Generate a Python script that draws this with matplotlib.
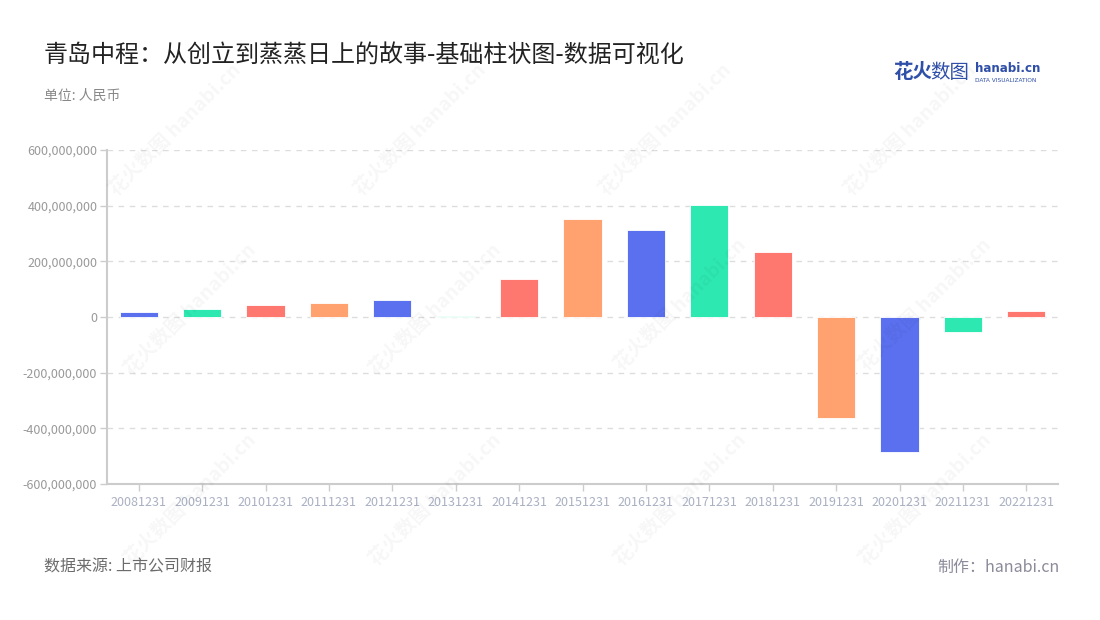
import matplotlib
matplotlib.use("Agg")
import matplotlib.pyplot as plt
from matplotlib.ticker import FuncFormatter

plt.rcParams['font.family'] = ['Noto Sans CJK SC', 'DejaVu Sans']

categories = ["20081231", "20091231", "20101231", "20111231", "20121231",
              "20131231", "20141231", "20151231", "20161231", "20171231",
              "20181231", "20191231", "20201231", "20211231", "20221231"]
values = [19e6, 29e6, 43e6, 50e6, 61e6,
          5e6, 135e6, 351e6, 312e6, 402e6,
          232e6, -364e6, -486e6, -54e6, 21e6]
palette = ["#5A70EE", "#2EE8B2", "#FF7870", "#FFA26F"]
yticks = [-600e6, -400e6, -200e6, 0, 200e6, 400e6, 600e6]

title = "青岛中程：从创立到蒸蒸日上的故事-基础柱状图-数据可视化"
unit = "单位: 人民币"
source = "数据来源: 上市公司财报"
maker = "制作：hanabi.cn"

W, H = 1100, 620
fig = plt.figure(figsize=(W / 100, H / 100), dpi=100)
fig.patch.set_facecolor("white")

# watermarks
wm_pos = [(175, 130), (420, 130), (665, 130), (910, 130),
          (190, 310), (435, 310), (680, 305), (925, 305),
          (190, 500), (435, 500), (680, 500), (925, 500)]
for (px, py) in wm_pos:
    fig.text(px / W, 1 - py / H, "花火数图 hanabi.cn", rotation=45,
             ha="center", va="center", fontsize=14, fontweight="bold",
             color="#000000", alpha=0.035, zorder=0)

ax = fig.add_axes([107 / W, 1 - 484 / H, (1058 - 107) / W, (484 - 150) / H])
ax.set_facecolor("none")
x = list(range(len(categories)))
colors = [palette[i % 4] for i in range(len(categories))]
ax.bar(x, values, width=0.6, color=colors, edgecolor="#ffffff",
       linewidth=0.6, zorder=3)

ax.set_xlim(-0.5, len(categories) - 0.5)
ax.set_ylim(-600e6, 600e6)
ax.set_yticks(yticks)
ax.yaxis.set_major_formatter(FuncFormatter(lambda v, p: f"{int(round(v)):,}"))
ax.set_xticks(x)
ax.set_xticklabels(categories)

ax.grid(axis="y", color="#dddddd", linestyle=(0, (4, 4)), linewidth=1, zorder=0)
ax.set_axisbelow(True)
for s in ["top", "right"]:
    ax.spines[s].set_visible(False)
for s in ["left", "bottom"]:
    ax.spines[s].set_color("#cccccc")
    ax.spines[s].set_linewidth(1.5)
ax.tick_params(axis="y", colors="#cccccc", labelcolor="#999999",
               labelsize=9, length=5, width=1, pad=2)
ax.tick_params(axis="x", colors="#cccccc", labelcolor="#a9b0c2",
               labelsize=9, length=5, width=1, pad=4)

# texts
fig.text(44 / W, 1 - 55 / H, title, fontsize=17.3, color="#222222",
         ha="left", va="center")
fig.text(44 / W, 1 - 96 / H, unit, fontsize=10, color="#888888",
         ha="left", va="center")
fig.text(44 / W, 1 - 567 / H, source, fontsize=11.5, color="#6b6b6b",
         ha="left", va="center")
fig.text(1060 / W, 1 - 567 / H, maker, fontsize=11.5, color="#8a8a9a",
         ha="right", va="center")

# logo
fig.text(893 / W, 1 - 72 / H, "花火", fontsize=14, fontweight="bold",
         color="#2f4fa8", ha="left", va="center")
fig.text(930 / W, 1 - 72 / H, "数图", fontsize=14, color="#2f4fa8",
         ha="left", va="center")
fig.text(975 / W, 1 - 69 / H, "hanabi.cn", fontsize=8.6, fontweight="bold",
         color="#2f4fa8", ha="left", va="center", family="DejaVu Sans")
fig.text(975 / W, 1 - 80 / H, "DATA VISUALIZATION", fontsize=4.2,
         color="#2f4fa8", ha="left", va="center", family="DejaVu Sans")

fig.savefig("out.png", dpi=100, facecolor="white")
